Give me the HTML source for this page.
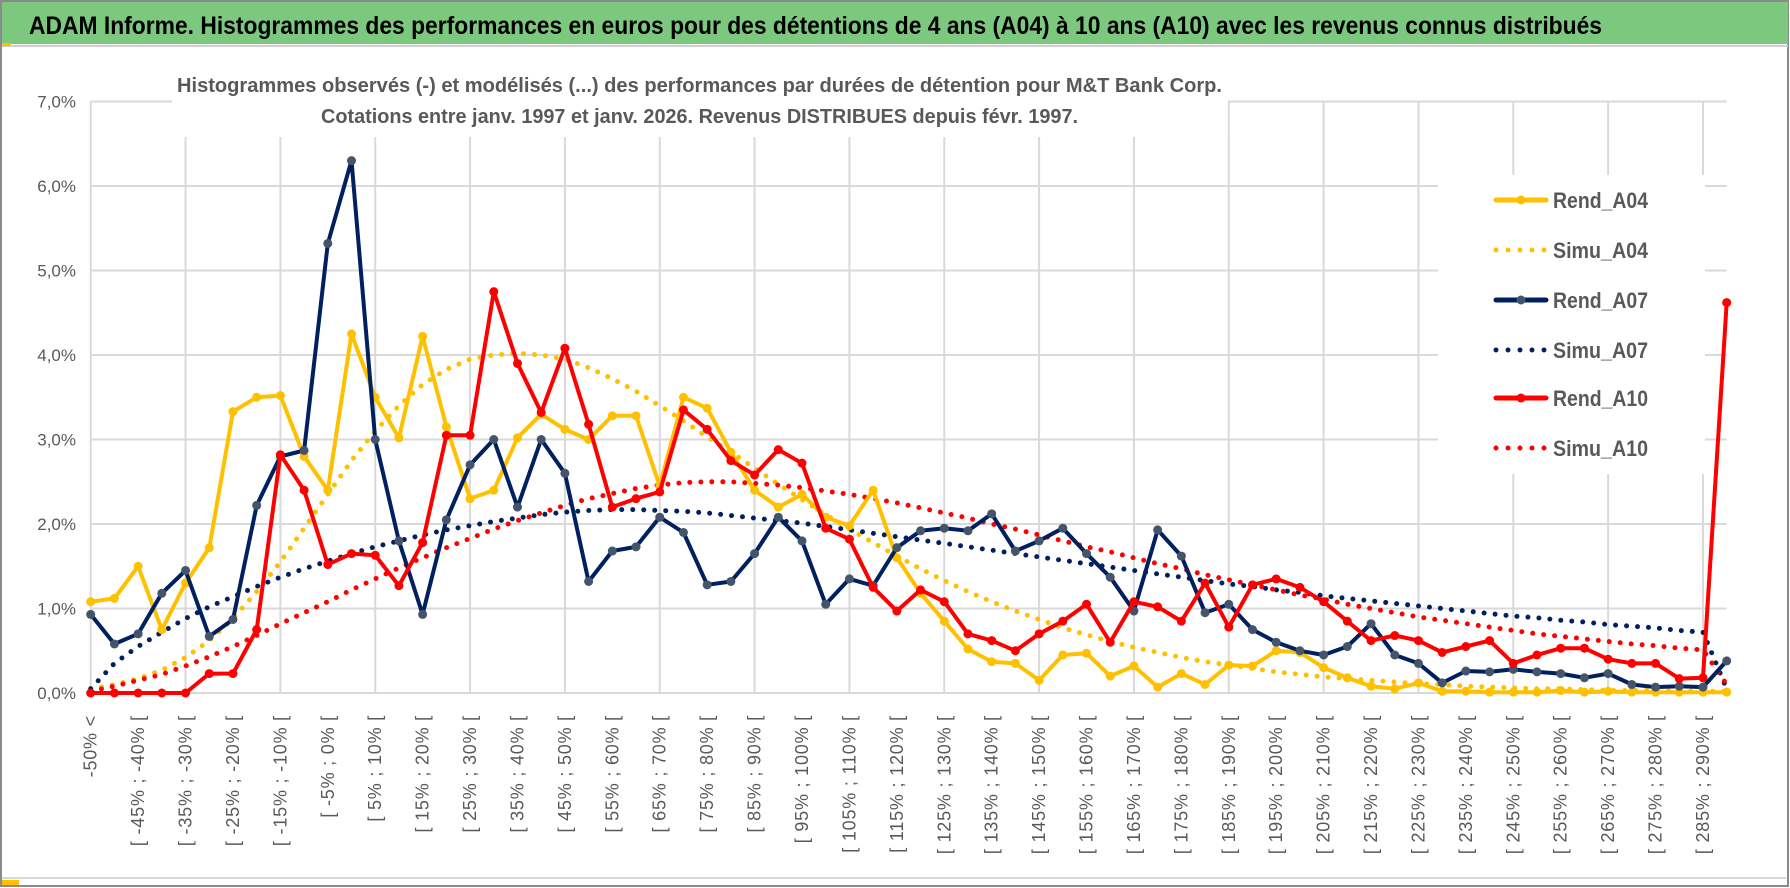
<!DOCTYPE html>
<html><head><meta charset="utf-8"><style>
html,body{margin:0;padding:0;background:#fff;width:1790px;height:888px;overflow:hidden}
svg{display:block}
text{font-family:"Liberation Sans",sans-serif}
</style></head><body>
<svg id="chart" width="1790" height="888" viewBox="0 0 1790 888" xmlns="http://www.w3.org/2000/svg">
<rect x="0" y="0" width="1790" height="888" fill="#fff"/>
<rect x="1" y="1" width="1787" height="885" fill="none" stroke="#8a8a8a" stroke-width="2"/>
<rect x="2" y="2" width="1786" height="42" fill="#7DC87F"/>
<line x1="2" y1="46" x2="1788" y2="46" stroke="#d0d0d0" stroke-width="2"/>
<rect x="2" y="43" width="9" height="3" fill="#FFC000"/>
<rect x="2" y="880" width="17" height="5" fill="#FFC000"/>
<line x1="2" y1="878" x2="1786" y2="878" stroke="#d9d9d9" stroke-width="2"/>
<text x="29" y="34" font-size="25" font-weight="bold" fill="#000" textLength="1573" lengthAdjust="spacingAndGlyphs">ADAM Informe. Histogrammes des performances en euros pour des détentions de 4 ans (A04) à 10 ans (A10) avec les revenus connus distribués</text>
<g id="grid"></g>
<rect x="172" y="55" width="1056" height="82" fill="#fff"/>
<text x="177" y="92" font-size="20" font-weight="bold" fill="#595959" textLength="1045" lengthAdjust="spacingAndGlyphs">Histogrammes observés (-) et modélisés (...) des performances par durées de détention pour M&amp;T Bank Corp.</text>
<text x="321" y="123" font-size="20" font-weight="bold" fill="#595959" textLength="757" lengthAdjust="spacingAndGlyphs">Cotations entre janv. 1997 et janv. 2026. Revenus DISTRIBUES depuis févr. 1997.</text>
<g id="yaxis"></g>
<g id="xaxis"></g>
<rect x="1438" y="175" width="267" height="299" fill="#fff"/>
<g id="series"></g>
<g id="legend"></g>
</svg>
<script>
const yTicks = [0,1,2,3,4,5,6,7];
const yTickLabels = ["0,0%","1,0%","2,0%","3,0%","4,0%","5,0%","6,0%","7,0%"];
const rendA04 = [1.08,1.12,1.50,0.75,1.30,1.72,3.33,3.50,3.52,2.80,2.40,4.25,3.50,3.02,4.22,3.15,2.30,2.40,3.02,3.30,3.12,3.00,3.28,3.28,2.45,3.50,3.37,2.85,2.40,2.20,2.35,2.08,1.98,2.40,1.60,1.18,0.85,0.52,0.37,0.35,0.15,0.45,0.47,0.20,0.32,0.07,0.23,0.10,0.33,0.32,0.50,0.48,0.30,0.18,0.08,0.05,0.12,0.02,0.02,0.01,0.01,0.01,0.03,0.01,0.02,0.01,0.01,0.01,0.01,0.01];
const simuA04 = [0.05,0.10,0.17,0.27,0.42,0.62,0.88,1.20,1.55,1.95,2.35,2.75,3.10,3.40,3.65,3.83,3.95,4.00,4.02,4.00,3.95,3.85,3.72,3.57,3.40,3.22,3.03,2.85,2.66,2.47,2.29,2.11,1.94,1.78,1.62,1.47,1.33,1.20,1.08,0.97,0.87,0.77,0.69,0.61,0.54,0.48,0.42,0.37,0.33,0.29,0.25,0.22,0.19,0.17,0.15,0.13,0.11,0.10,0.08,0.07,0.06,0.05,0.05,0.04,0.03,0.03,0.03,0.02,0.02,0.02];
const rendA07 = [0.93,0.58,0.70,1.18,1.45,0.67,0.87,2.22,2.80,2.87,5.32,6.30,3.00,1.80,0.93,2.05,2.70,3.00,2.20,3.00,2.60,1.32,1.68,1.73,2.08,1.90,1.28,1.32,1.65,2.08,1.80,1.05,1.35,1.27,1.72,1.92,1.95,1.92,2.12,1.68,1.80,1.95,1.65,1.37,0.97,1.93,1.62,0.95,1.05,0.75,0.60,0.50,0.45,0.55,0.82,0.45,0.35,0.12,0.26,0.25,0.28,0.25,0.23,0.18,0.23,0.10,0.07,0.08,0.07,0.38];
const simuA07 = [0.05,0.35,0.55,0.72,0.88,1.02,1.14,1.26,1.37,1.47,1.56,1.65,1.73,1.80,1.87,1.93,1.98,2.03,2.07,2.11,2.14,2.16,2.17,2.17,2.16,2.15,2.13,2.10,2.07,2.04,2.01,1.97,1.93,1.89,1.85,1.81,1.77,1.73,1.69,1.65,1.61,1.57,1.53,1.49,1.45,1.41,1.37,1.33,1.29,1.26,1.22,1.19,1.15,1.12,1.09,1.06,1.03,1.00,0.97,0.94,0.91,0.89,0.86,0.84,0.81,0.79,0.77,0.74,0.72,0.05];
const rendA10 = [0,0,0,0,0,0.23,0.23,0.75,2.82,2.40,1.52,1.65,1.63,1.27,1.78,3.05,3.05,4.75,3.90,3.32,4.08,3.18,2.20,2.30,2.38,3.35,3.12,2.75,2.58,2.88,2.72,1.95,1.82,1.25,0.97,1.22,1.08,0.70,0.62,0.50,0.70,0.85,1.05,0.60,1.08,1.02,0.85,1.30,0.78,1.28,1.35,1.25,1.08,0.85,0.62,0.68,0.62,0.48,0.55,0.62,0.35,0.45,0.53,0.53,0.40,0.35,0.35,0.17,0.18,4.62];
const simuA10 = [0.02,0.08,0.15,0.22,0.32,0.43,0.55,0.68,0.82,0.95,1.08,1.22,1.35,1.48,1.60,1.72,1.83,1.94,2.04,2.13,2.22,2.30,2.36,2.42,2.46,2.49,2.50,2.50,2.48,2.46,2.43,2.39,2.35,2.30,2.25,2.19,2.13,2.07,2.00,1.94,1.87,1.80,1.73,1.67,1.60,1.53,1.47,1.40,1.34,1.28,1.22,1.16,1.11,1.05,1.00,0.95,0.90,0.86,0.82,0.78,0.74,0.70,0.67,0.64,0.61,0.58,0.56,0.53,0.51,0.10];

const NS="http://www.w3.org/2000/svg";
const N = rendA04.length;
const X0=90.7, DX=23.71, Y0=693, DY=84.5;
function xs(i){return X0+DX*i;}
function ys(v){return Y0-DY*v;}
function mk(tag,attrs,parent){const e=document.createElementNS(NS,tag);for(const k in attrs)e.setAttribute(k,attrs[k]);parent.appendChild(e);return e;}
function catLabel(i){
  if(i===0) return "-50% <";
  const lo=-50+5*(i-1), hi=lo+5;
  return "[ "+lo+"% ; "+hi+"% [";
}
const grid=document.getElementById('grid');
yTicks.forEach((t,k)=>{
  const l=mk('line',{x1:xs(0),x2:xs(N-1),y1:ys(t),y2:ys(t),stroke:'#d9d9d9','stroke-width':2},grid);
  
  
});
for(let i=0;i<N;i+=4){
  const l=mk('line',{x1:xs(i),x2:xs(i),y1:ys(7),y2:ys(0),stroke:'#d9d9d9','stroke-width':2},grid);
  
  
}
const ya=document.getElementById('yaxis');
yTicks.forEach((t,k)=>{
  const tx=mk('text',{x:76,y:ys(t)+6,'font-size':17,fill:'#595959','text-anchor':'end'},ya);
  tx.textContent=yTickLabels[k];
  
  
});
const xa=document.getElementById('xaxis');
for(let i=0;i<N;i+=2){
  const x=xs(i)+6, y=715;
  const tx=mk('text',{x:x,y:y,'font-size':18,fill:'#595959','text-anchor':'end','letter-spacing':'0.8',transform:`rotate(-90 ${x} ${y})`},xa);
  tx.textContent=catLabel(i);
  
  
}
const sg=document.getElementById('series');
function path(arr){return arr.map((v,i)=>(i?'L':'M')+xs(i).toFixed(1)+' '+ys(v).toFixed(1)).join(' ');}
function dotted(arr,color,name){
  const p=mk('path',{d:path(arr),fill:'none',stroke:color,'stroke-width':5,'stroke-linecap':'round','stroke-dasharray':'0 11'},sg);
  
  
}
function solid(arr,color,mcolor,name){
  const g=mk('g',{},sg);
  
  
  const p=mk('path',{d:path(arr),fill:'none',stroke:color,'stroke-width':4,'stroke-linejoin':'round'},g);
  
  
  arr.forEach((v,i)=>{
    const c=mk('circle',{cx:xs(i),cy:ys(v),r:4.5,fill:mcolor},g);
    
    
  });
}
dotted(simuA04,'#FFC000','simu-a04');
dotted(simuA07,'#002060','simu-a07');
dotted(simuA10,'#FF0000','simu-a10');
solid(rendA04,'#FFC000','#FFC000','rend-a04');
solid(rendA07,'#002060','#44546A','rend-a07');
solid(rendA10,'#FF0000','#FF0000','rend-a10');

const lg=document.getElementById('legend');
const legItems=[["Rend_A04",'#FFC000','#FFC000',false,200],["Simu_A04",'#FFC000',null,true,250],["Rend_A07",'#002060','#44546A',false,300],["Simu_A07",'#002060',null,true,350],["Rend_A10",'#FF0000','#FF0000',false,398],["Simu_A10",'#FF0000',null,true,448]];
legItems.forEach(it=>{
  const g=mk('g',{},lg);
  
  
  if(it[3]){
    mk('line',{x1:1496,x2:1546,y1:it[4],y2:it[4],stroke:it[1],'stroke-width':5,'stroke-linecap':'round','stroke-dasharray':'0 12'},g);
  } else {
    mk('line',{x1:1496,x2:1546,y1:it[4],y2:it[4],stroke:it[1],'stroke-width':5,'stroke-linecap':'round'},g);
    mk('circle',{cx:1521,cy:it[4],r:4.5,fill:it[2]},g);
  }
  const t=mk('text',{x:1553,y:it[4]+8,'font-size':22,'font-weight':'bold',fill:'#595959',textLength:95,lengthAdjust:'spacingAndGlyphs'},g);
  t.textContent=it[0];
});
</script>
</body></html>
